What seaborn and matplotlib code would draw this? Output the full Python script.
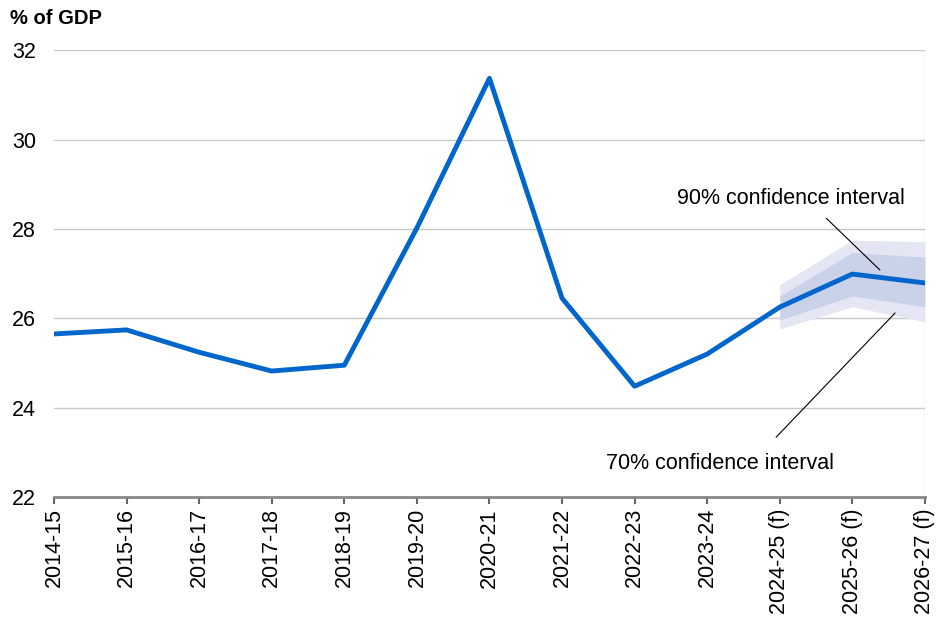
import numpy as np
import pandas as pd
import matplotlib
matplotlib.use("Agg")
import matplotlib.pyplot as plt
import seaborn as sns

years = ["2014-15", "2015-16", "2016-17", "2017-18", "2018-19", "2019-20", "2020-21",
         "2021-22", "2022-23", "2023-24", "2024-25 (f)", "2025-26 (f)", "2026-27 (f)"]
values = [25.65, 25.74, 25.24, 24.82, 24.95, 28.02, 31.37, 26.45, 24.48, 25.2, 26.25, 26.99, 26.79]

# forecast bands (2024-25 .. 2026-27)
fc_idx = [10, 11, 12]
ci90_low = [25.76, 26.26, 25.92]
ci90_high = [26.75, 27.75, 27.71]
ci70_low = [25.96, 26.5, 26.26]
ci70_high = [26.5, 27.47, 27.37]

sns.set_style("white")
plt.rcParams['font.family'] = ['Liberation Sans', 'DejaVu Sans']
plt.rcParams['text.color'] = 'black'

df = pd.DataFrame({"pos": range(len(years)), "val": values})

fig = plt.figure(figsize=(9.39, 6.19), dpi=100)
ax = fig.add_axes([0.0575, 0.197, 0.9275, 0.722])

ax.fill_between(fc_idx, ci90_low, ci90_high, color="#e4e7f3", lw=0, zorder=1)
ax.fill_between(fc_idx, ci70_low, ci70_high, color="#c9d2e8", lw=0, zorder=2)
sns.lineplot(data=df, x="pos", y="val", color="#0066cc", lw=3.5, ax=ax, zorder=3)

ax.set_xlim(0, len(years) - 1)
ax.set_ylim(22, 32)
ax.set_yticks([22, 24, 26, 28, 30, 32])
ax.set_xticks(range(len(years)))
ax.set_xticklabels(years, rotation=90, fontsize=15.5)
ax.tick_params(axis="y", labelsize=15.5, length=0, pad=13, labelcolor="black")
ax.tick_params(axis="x", length=5, width=1.5, color="#666666", direction="out", pad=3,
               bottom=True, labelcolor="black")
ax.grid(axis="y", color="#c8c8c8", lw=1)
ax.axvline(len(years) - 1, color="#e0e0e8", lw=1, zorder=0)
for s in ["top", "right", "left"]:
    ax.spines[s].set_visible(False)
ax.spines["bottom"].set_color("#888888")
ax.spines["bottom"].set_linewidth(2)
ax.set_xlabel("")
ax.set_ylabel("")

fig.text(10 / 939, 1 - 18 / 619, "% of GDP", fontsize=14.5, fontweight="bold", va="center", ha="left")

ax.text(10.15, 28.69, "90% confidence interval", fontsize=15.5, ha="center", va="center")
ax.annotate("", xy=(11.38, 27.08), xytext=(10.64, 28.24),
            arrowprops=dict(arrowstyle="-", color="black", lw=0.8, shrinkA=0, shrinkB=0))
ax.text(9.18, 22.76, "70% confidence interval", fontsize=15.5, ha="center", va="center")
ax.annotate("", xy=(11.59, 26.12), xytext=(9.95, 23.34),
            arrowprops=dict(arrowstyle="-", color="black", lw=0.8, shrinkA=0, shrinkB=0))

fig.savefig("out.png", dpi=100)
